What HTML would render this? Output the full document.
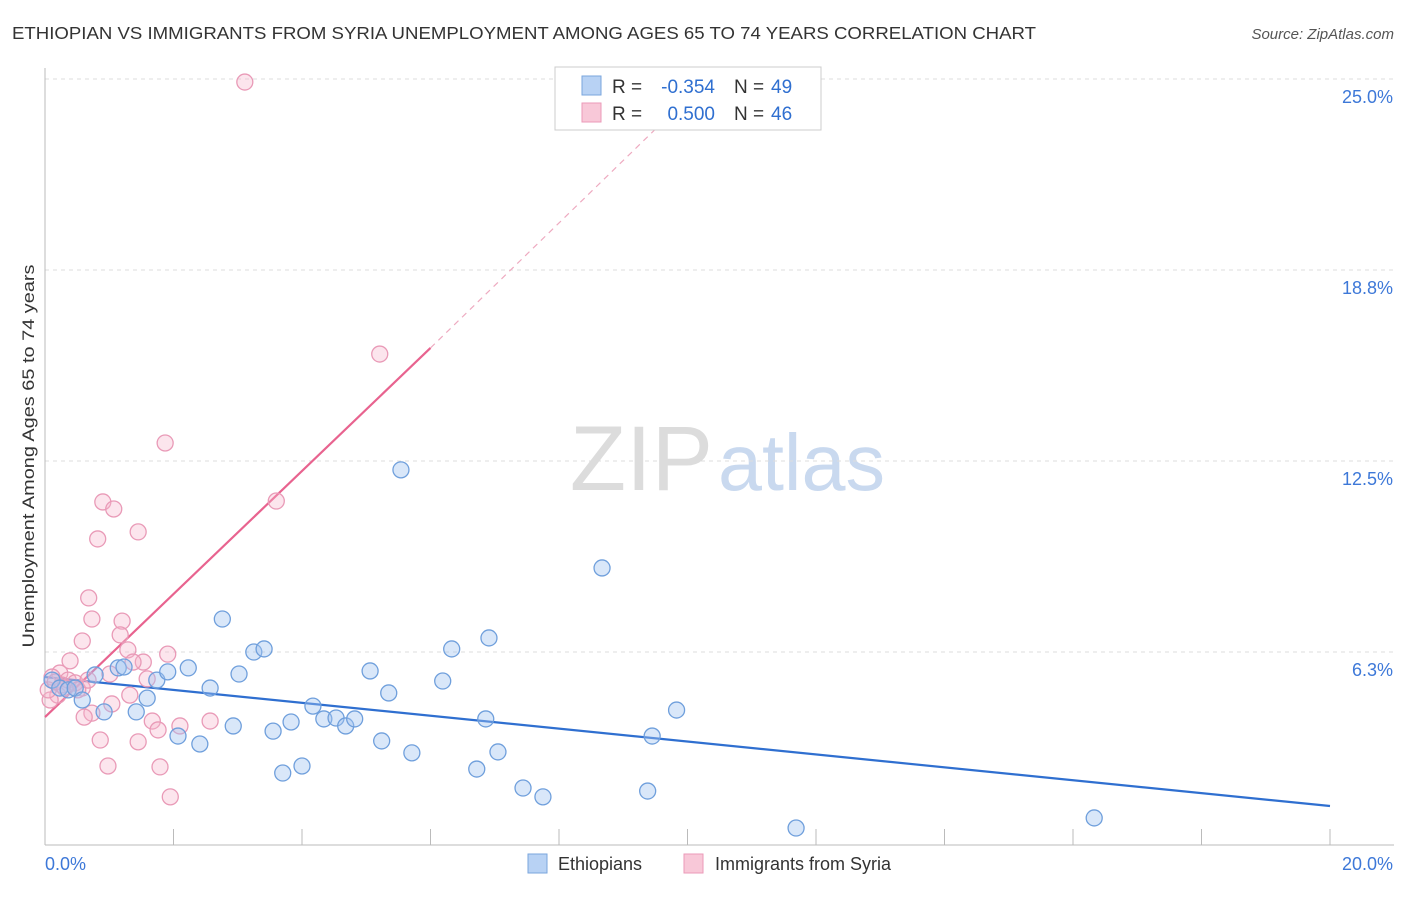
<!DOCTYPE html>
<html><head><meta charset="utf-8"><style>
body{margin:0;background:#fff;font-family:"Liberation Sans",sans-serif;}
svg text{font-family:"Liberation Sans",sans-serif;}
</style></head><body>
<svg id="chart" width="1406" height="892" xmlns="http://www.w3.org/2000/svg">
<text x="12" y="39" font-size="17.5" fill="#333" textLength="1024" lengthAdjust="spacingAndGlyphs">ETHIOPIAN VS IMMIGRANTS FROM SYRIA UNEMPLOYMENT AMONG AGES 65 TO 74 YEARS CORRELATION CHART</text>
<text x="1394" y="39" font-size="15" fill="#555" text-anchor="end" font-style="italic">Source: ZipAtlas.com</text>
<g>
<text x="713" y="490" font-size="92" fill="#dcdcdc" text-anchor="end" font-family="Liberation Serif, serif">ZIP</text>
<text x="718" y="490" font-size="80" fill="#c9d9ef" textLength="167" lengthAdjust="spacingAndGlyphs">atlas</text>
</g>
<g id="grid"></g>
<g id="axes"></g>
<g id="lines"></g>
<g id="pts"></g>
<text transform="translate(34,456) rotate(-90)" font-size="17" fill="#333" text-anchor="middle" textLength="383" lengthAdjust="spacingAndGlyphs">Unemployment Among Ages 65 to 74 years</text>
<g>
<rect x="555" y="67" width="266" height="63" fill="#fff" stroke="#ccc"/>
<rect x="582" y="76" width="19" height="19" fill="#b8d2f4" stroke="#7aa6dd"/>
<rect x="582" y="103" width="19" height="19" fill="#f8c8d8" stroke="#eb9ab8"/>
<text x="612" y="93" font-size="19" fill="#333">R =</text>
<text x="715" y="93" font-size="19" fill="#2f6fd0" text-anchor="end">-0.354</text>
<text x="734" y="93" font-size="19" fill="#333">N =</text>
<text x="771" y="93" font-size="19" fill="#2f6fd0">49</text>
<text x="612" y="120" font-size="19" fill="#333">R =</text>
<text x="715" y="120" font-size="19" fill="#2f6fd0" text-anchor="end">0.500</text>
<text x="734" y="120" font-size="19" fill="#333">N =</text>
<text x="771" y="120" font-size="19" fill="#2f6fd0">46</text>
</g>
<g>
<rect x="528" y="854" width="19" height="19" fill="#b8d2f4" stroke="#7aa6dd"/>
<text x="558" y="870" font-size="18" fill="#333">Ethiopians</text>
<rect x="684" y="854" width="19" height="19" fill="#f8c8d8" stroke="#eb9ab8"/>
<text x="715" y="870" font-size="18" fill="#333">Immigrants from Syria</text>
</g>
</svg>
<script>
const xTicks=[0,2,4,6,8,10,12,14,16,18,20];
const yTicks=[6.25,12.5,18.75,25];
const yTickLabels=["6.3%","12.5%","18.8%","25.0%"];
const blueX=[0.11,0.23,0.36,0.47,0.58,0.78,0.92,1.14,1.23,1.42,1.59,1.74,1.91,2.07,2.23,2.41,2.57,2.76,2.93,3.02,3.25,3.41,3.55,3.70,3.83,4.00,4.17,4.34,4.53,4.68,4.82,5.06,5.24,5.35,5.54,5.71,6.19,6.33,6.72,6.86,6.91,7.05,7.44,7.75,8.67,9.38,9.45,9.83,11.69,16.33];
const blueY=[5.33,5.07,5.01,5.07,4.68,5.50,4.29,5.73,5.76,4.29,4.74,5.33,5.60,3.50,5.73,3.24,5.07,7.33,3.83,5.53,6.25,6.35,3.66,2.29,3.96,2.52,4.48,4.06,4.09,3.83,4.06,5.63,3.34,4.91,12.21,2.95,5.30,6.35,2.42,4.06,6.71,2.98,1.80,1.51,9.00,1.70,3.50,4.35,0.49,0.82];
const pinkX=[3.11,5.21,1.87,3.60,0.90,1.07,1.45,0.82,0.68,0.73,1.20,0.58,1.17,1.91,0.39,1.29,1.53,1.37,0.23,0.11,0.36,0.58,0.47,0.20,0.08,1.01,1.59,1.32,1.04,0.73,0.61,1.67,2.10,2.57,1.76,0.86,1.45,0.98,1.79,1.95,0.26,0.05,0.16,0.31,0.51,0.67];
const pinkY=[24.90,16.00,13.09,11.19,11.16,10.93,10.18,9.95,8.02,7.33,7.26,6.61,6.81,6.18,5.96,6.32,5.92,5.92,5.56,5.43,5.33,5.07,5.24,4.84,4.68,5.53,5.37,4.84,4.55,4.25,4.12,3.99,3.83,3.99,3.70,3.37,3.31,2.52,2.49,1.51,5.17,5.01,5.27,5.07,5.01,5.33];
const blueTrend=[[0,5.43],[20,1.21]];
const pinkTrend=[[0,4.12],[6.0,16.2]];
const pinkTrendDash=[[6.0,16.2],[9.57,23.5]];
const NS="http://www.w3.org/2000/svg";
const X=v=>45+v/20*1285, Y=v=>843-v/6.25*191;
function mk(t,a,p){const e=document.createElementNS(NS,t);for(const k in a)e.setAttribute(k,a[k]);p.appendChild(e);return e;}
const grid=document.getElementById('grid'),axes=document.getElementById('axes'),lines=document.getElementById('lines'),pts=document.getElementById('pts');
yTicks.forEach(function(v){const g=mk('line',{x1:45,x2:1394,y1:Y(v),y2:Y(v),stroke:'#ddd','stroke-dasharray':'4,4'},grid);});
yTicks.forEach(function(v,i){const t=mk('text',{x:1393,y:Y(v)+24,'font-size':18,fill:'#3d78d8','text-anchor':'end'},axes);t.textContent=yTickLabels[i];});
mk('line',{x1:45,x2:45,y1:68,y2:845,stroke:'#bbb'},axes);
mk('line',{x1:45,x2:1394,y1:845,y2:845,stroke:'#bbb'},axes);
xTicks.forEach(function(v){const t=mk('line',{x1:X(v),x2:X(v),y1:829,y2:845,stroke:'#bbb'},axes);});
const x0=mk('text',{x:45,y:870,'font-size':18,fill:'#3d78d8'},axes);x0.textContent='0.0%';
const x1=mk('text',{x:1393,y:870,'font-size':18,fill:'#3d78d8','text-anchor':'end'},axes);x1.textContent='20.0%';
function pt(xs,ys,fill,stroke,name){xs.forEach(function(v,i){const c=mk('circle',{cx:X(v),cy:Y(ys[i]),r:8,fill:fill,stroke:stroke,'stroke-width':1.3},pts);});}
pt(pinkX,pinkY,'rgba(246,180,202,0.35)','#e99ab7','syria-point');
pt(blueX,blueY,'rgba(160,196,240,0.4)','#6f9fdc','ethiopian-point');
function ln(p,c,w,d,name){const l=mk('line',{x1:X(p[0][0]),y1:Y(p[0][1]),x2:X(p[1][0]),y2:Y(p[1][1]),stroke:c,'stroke-width':w},lines);if(d)l.setAttribute('stroke-dasharray',d);}
ln(blueTrend,'#2f6fd0',2.2,null,'ethiopian-trend');
ln(pinkTrend,'#e8638f',2.2,null,'syria-trend');
ln(pinkTrendDash,'#eeaac0',1.2,'6,5','syria-trend-extension');
</script>
</body></html>
